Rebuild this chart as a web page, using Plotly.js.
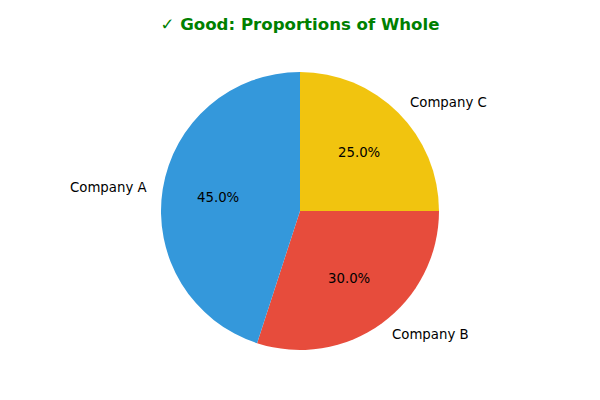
<!DOCTYPE html>
<html>
<head>
<meta charset="utf-8">
<script src="https://cdn.plot.ly/plotly-3.0.1.min.js"></script>
<style>
  html, body { margin: 0; padding: 0; background: #fff; }
  #chart { width: 600px; height: 400px; }
</style>
</head>
<body>
<div id="chart"></div>
<script>
// Market share data
const companies = ["Company A", "Company B", "Company C"];
const shares = [45, 30, 25];
const sliceColors = ["#3498db", "#e74c3c", "#f1c40f"];

const W = 600, H = 400;
const margin = { l: 0, r: 0, t: 72, b: 50 };
const plotW = W - margin.l - margin.r;
const plotH = H - margin.t - margin.b;
const radiusPx = Math.min(plotW, plotH) / 2;

// matplotlib-style labels: name at 1.1r, percent at 0.6r, counterclockwise from 12 o'clock
function sliceAnnotations() {
    const total = shares.reduce((a, b) => a + b, 0);
    const anns = [];
    let start = 90;
    shares.forEach((v, i) => {
        const sweep = v / total * 360;
        const mid = (start + sweep / 2) * Math.PI / 180;
        const cx = Math.cos(mid), cy = Math.sin(mid);
        const toPaper = (f) => ({
            x: 0.5 + f * radiusPx * cx / plotW,
            y: 0.5 + f * radiusPx * cy / plotH,
        });
        const lp = toPaper(1.1);
        anns.push({
            x: lp.x, y: lp.y, xref: "paper", yref: "paper",
            text: companies[i], showarrow: false,
            xanchor: cx > 0 ? "left" : "right", yanchor: "middle",
            font: { size: 13.3, color: "#000" },
        });
        const pp = toPaper(0.6);
        anns.push({
            x: pp.x, y: pp.y, xref: "paper", yref: "paper",
            text: (v / total * 100).toFixed(1) + "%", showarrow: false,
            xanchor: "center", yanchor: "middle",
            font: { size: 13.3, color: "#000" },
        });
        start += sweep;
    });
    return anns;
}

// counterclockwise A,B,C from 12 o'clock == clockwise C,B,A from 12 o'clock
const trace = {
    type: "pie",
    labels: companies.slice().reverse(),
    values: shares.slice().reverse(),
    marker: { colors: sliceColors.slice().reverse(), line: { width: 0 } },
    sort: false,
    direction: "clockwise",
    rotation: 0,
    textinfo: "none",
    hoverinfo: "label+percent",
    showlegend: false,
};

const layout = {
    width: W, height: H,
    paper_bgcolor: "#fff",
    plot_bgcolor: "#fff",
    font: { family: "DejaVu Sans, sans-serif", color: "#000" },
    margin: margin,
    title: {
        text: "<b>✓ Good: Proportions of Whole</b>",
        font: { size: 16.6, color: "#008000", family: "DejaVu Sans, sans-serif" },
        x: 0.5, xanchor: "center",
        y: 1 - 24 / H, yref: "container", yanchor: "middle",
    },
    showlegend: false,
    annotations: sliceAnnotations(),
};

Plotly.newPlot("chart", [trace], layout, { displayModeBar: false, staticPlot: true });
</script>
</body>
</html>
